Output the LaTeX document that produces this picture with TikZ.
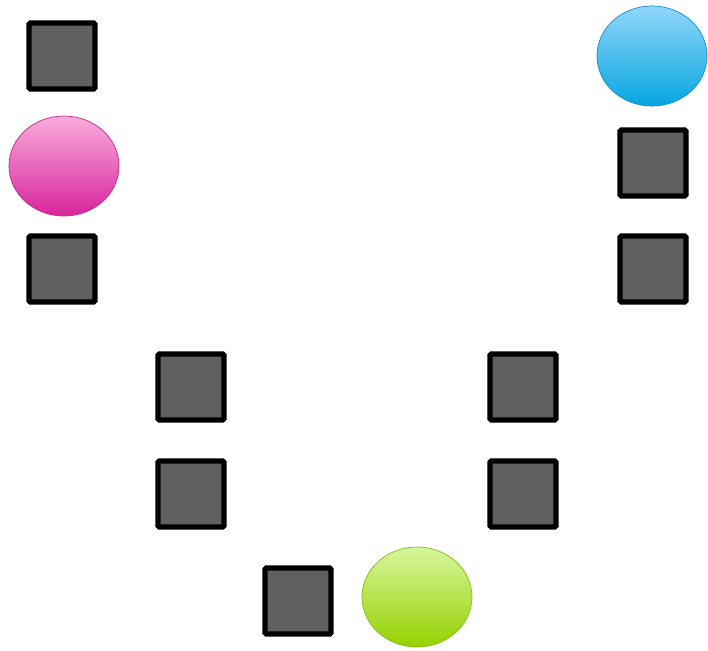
\documentclass[tikz,border=0pt]{standalone}
\usepackage{xcolor,tikz}
\usetikzlibrary{shapes.geometric}
\definecolor{slate}{RGB}{96,96,96}
\definecolor{pinktop}{RGB}{250,172,220}
\definecolor{pinkbot}{RGB}{216,36,156}
\definecolor{pinkline}{RGB}{190,40,140}
\definecolor{skytop}{RGB}{146,214,250}
\definecolor{skybot}{RGB}{6,166,224}
\definecolor{skyline}{RGB}{20,140,200}
\definecolor{limetop}{RGB}{214,246,156}
\definecolor{limebot}{RGB}{150,210,0}
\definecolor{limeline}{RGB}{130,190,20}
\tikzset{
  tile/.style={draw=black,fill=slate,line width=0.13cm,minimum size=1.65cm,rounded corners=1pt,inner sep=0pt},
  blob/.style={ellipse,minimum width=2.75cm,minimum height=2.5cm,inner sep=0pt,line width=0.5pt},
  pinkblob/.style={blob,draw=pinkline,top color=pinktop,bottom color=pinkbot},
  skyblob/.style={blob,draw=skyline,top color=skytop,bottom color=skybot},
  limeblob/.style={blob,draw=limeline,top color=limetop,bottom color=limebot}
}
\begin{document}
\begin{tikzpicture}[x=0.025cm,y=-0.025cm]
  \useasboundingbox (0,0) rectangle (708,650);
  \foreach \n/\x/\y in {1/62/56,2/62/269,3/191/387,4/191/494,5/298/601,6/523/387,7/523/494,8/653/163,9/653/269}{
    \node[tile] (sq\n) at (\x,\y) {};
  }
  \node[pinkblob] (pink) at (64,166) {};
  \node[skyblob] (sky) at (652,56) {};
  \node[limeblob] (lime) at (417,597) {};
\end{tikzpicture}
\end{document}
